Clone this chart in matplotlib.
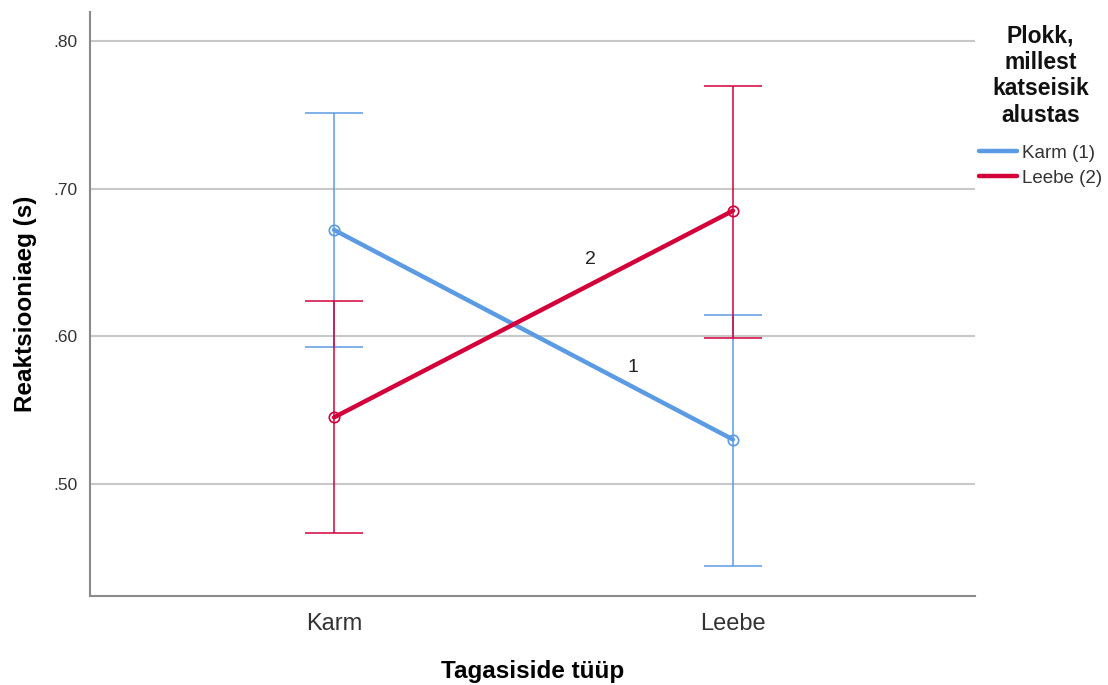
import matplotlib
matplotlib.use("Agg")
import matplotlib.pyplot as plt
from matplotlib.font_manager import FontProperties

categories = ["Karm", "Leebe"]
series_names = ["Karm (1)", "Leebe (2)"]
series_tags = ["1", "2"]
means = {
    "Karm (1)": [0.672, 0.530],
    "Leebe (2)": [0.545, 0.685],
}
ci_low = {
    "Karm (1)": [0.593, 0.444],
    "Leebe (2)": [0.467, 0.599],
}
ci_high = {
    "Karm (1)": [0.751, 0.6145],
    "Leebe (2)": [0.624, 0.7695],
}
colors = {"Karm (1)": "#5b9be3", "Leebe (2)": "#d3003a"}
tag_pos = {"1": (0.749, 0.579), "2": (0.642, 0.652)}
yticks = [0.50, 0.60, 0.70, 0.80]

plt.rcParams["font.family"] = ["Liberation Sans", "DejaVu Sans"]

fig = plt.figure(figsize=(11.08, 6.85), dpi=100)
ax = fig.add_axes([90/1108, 1-596/685, (975-90)/1108, (596-12)/685])

x = list(range(len(categories)))
for name in series_names:
    c = colors[name]
    m = means[name]
    lo = [mi - l for mi, l in zip(m, ci_low[name])]
    hi = [h - mi for mi, h in zip(m, ci_high[name])]
    ax.errorbar(x, m, yerr=[lo, hi], fmt="none", ecolor=c, elinewidth=1.1,
                capsize=21, capthick=1.1, zorder=3)
    ax.plot(x, m, color=c, lw=3.2, solid_capstyle="round", zorder=4, label=name)
    ax.plot(x, m, "o", mfc="none", mec=c, ms=7.5, mew=1.2, zorder=5)

for t, (tx, ty) in tag_pos.items():
    ax.text(tx, ty, t, fontsize=14, ha="center", va="center", color="#222222")

ax.set_xlim(-0.6115, 1.6065)
ax.set_ylim(0.424, 0.8196)
ax.set_xticks(x)
ax.set_xticklabels(categories, fontsize=17, color="#333333")
ax.set_yticks(yticks)
ax.set_yticklabels([f"{v:.2f}".lstrip("0") for v in yticks], fontsize=12.5, color="#333333")
ax.tick_params(axis="both", length=0)
ax.tick_params(axis="x", pad=12)
ax.tick_params(axis="y", pad=9)
ax.yaxis.grid(True, color="#c8c8c8", lw=1.5)
ax.set_axisbelow(True)
for s in ["top", "right"]:
    ax.spines[s].set_visible(False)
for s in ["left", "bottom"]:
    ax.spines[s].set_color("#8a8a8a")
    ax.spines[s].set_linewidth(1.5)

ax.set_xlabel("Tagasiside tüüp", fontsize=17.5, fontweight="bold", labelpad=18)
ax.set_ylabel("Reaktsiooniaeg (s)", fontsize=17.5, fontweight="bold", labelpad=12)

leg = ax.legend(loc="upper left", bbox_to_anchor=(979/1108, 1-25/685),
                bbox_transform=fig.transFigure, frameon=False,
                title="Plokk,\nmillest\nkatseisik\nalustas",
                title_fontproperties=FontProperties(family="Liberation Sans", weight="bold", size=16.5),
                fontsize=13.5, handlelength=2.0, handletextpad=0.3, labelspacing=0.4,
                borderaxespad=0, borderpad=0, alignment="center")
leg.get_title().set_linespacing(1.18)
leg.get_title().set_multialignment("center")
leg.get_title().set_color("#111111")
leg._legend_box.sep = 13
for t in leg.get_texts():
    t.set_color("#333333")

fig.savefig("out.png", dpi=100)
